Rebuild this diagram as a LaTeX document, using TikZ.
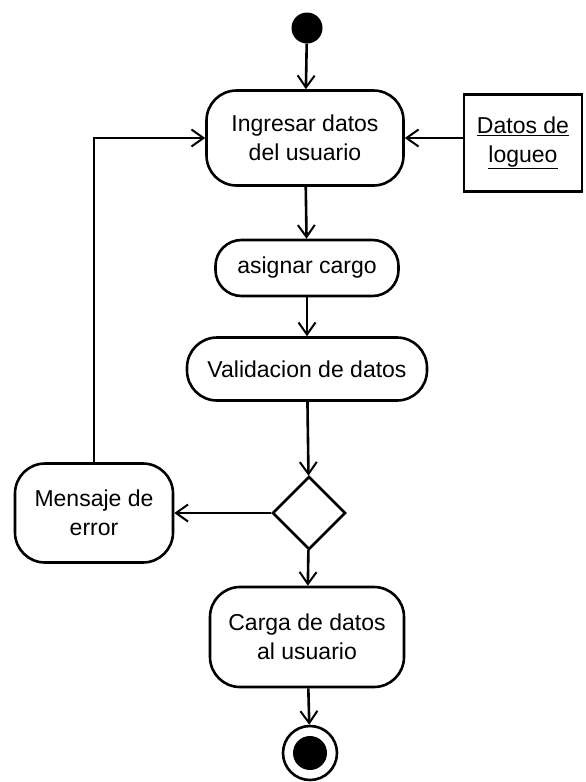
\documentclass[tikz,border=0pt]{standalone}
\usepackage{fontspec}
\setmainfont{Liberation Sans}
\usetikzlibrary{arrows.meta,positioning,shapes.geometric}

\begin{document}
\begin{tikzpicture}[x=1pt,y=-1pt,
	accion/.style={draw,line width=2.6pt,rounded corners=30pt,align=center,
		font=\fontsize{23}{29}\selectfont,inner sep=0pt},
	flujo/.style={line width=2.6pt,-{Straight Barb[length=12pt,width=17pt,line width=2pt]}}]
	\useasboundingbox (0,0) rectangle (586,782);
	
	\node[circle,fill,minimum size=31pt,inner sep=0pt] (inicio) at (307,28) {};
	\node[accion,minimum width=197pt,minimum height=95pt] (ingresar) at (305,138) {Ingresar datos\\del usuario};
	\node[draw,line width=2.6pt,minimum width=118pt,minimum height=97pt,align=center,
		font=\fontsize{23}{29}\selectfont,inner sep=0pt] (logueo) at (523,143) {\underline{Datos de}\\\underline{logueo}};
	\node[accion,minimum width=183pt,minimum height=56pt,rounded corners=26pt] (asignar) at (307,268) {asignar cargo};
	\node[accion,minimum width=240pt,minimum height=63pt] (validar) at (307,369) {Validacion de datos};
	\node[draw,diamond,line width=2.6pt,minimum width=73pt,minimum height=73pt,inner sep=0pt] (decision) at (309,513) {};
	\node[accion,minimum width=158pt,minimum height=99pt] (mensaje) at (94,513) {Mensaje de\\error};
	\node[accion,minimum width=194pt,minimum height=100pt] (carga) at (307,637) {Carga de datos\\al usuario};
	\node[circle,draw,line width=2.6pt,minimum size=54pt,inner sep=0pt] (fin) at (310,753) {};
	\fill (fin) circle (17pt);
	
	\draw[flujo] (inicio) -- (ingresar);
	\draw[flujo] (logueo.west |- ingresar) -- (ingresar.east);
	\draw[flujo] (ingresar) -- (asignar);
	\draw[flujo] (asignar) -- (validar);
	\draw[flujo] (validar) -- (decision);
	\draw[flujo] (decision) -- (mensaje);
	\draw[flujo] (decision) -- (carga);
	\draw[flujo] (mensaje.north) |- (ingresar.west);
	\draw[flujo] (carga) -- (fin);
\end{tikzpicture}
\end{document}
